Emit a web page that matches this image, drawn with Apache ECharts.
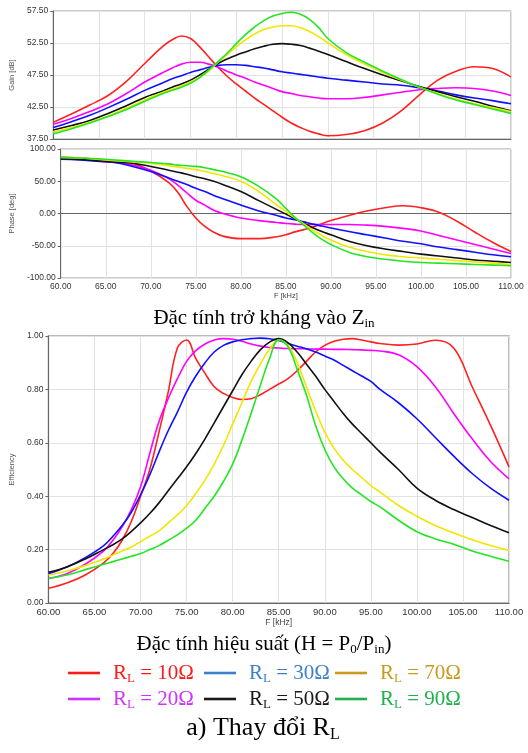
<!DOCTYPE html>
<html><head><meta charset="utf-8">
<script src="https://cdn.jsdelivr.net/npm/echarts@6/dist/echarts.min.js"></script>
<style>html,body{margin:0;padding:0;background:#fff}#c{width:528px;height:753px}</style>
</head><body><div id="c"></div>
<script>
// ---------- data ----------
const seriesNames = ['RL = 10Ω','RL = 20Ω','RL = 30Ω','RL = 50Ω','RL = 70Ω','RL = 90Ω'];
const lineColors = ['#ff2020','#ff00ff','#1010ff','#111111','#f2e600','#22e622'];
const legendColors = ['#ff1a1a','#cc33ff','#3d7fc9','#1a1a1a','#c89b1e','#1fb14c'];

const freqGain = [60,62,64,66,68,70,72,73,74,75,76,77,78,79,80,81,82,83,84,85,86,87,88,89,90,92,94,96,98,100,102,104,106,108,110];
const gain10 = [40.1,41.4,42.8,44.3,46.5,49.3,52.0,53.0,53.6,53.2,51.9,50.3,48.7,47.3,46.1,45.0,43.9,42.9,41.9,40.9,40.0,39.3,38.7,38.3,38.0,38.2,38.8,40.0,41.9,44.4,46.7,48.1,48.8,48.5,47.2];
const gain20 = [39.8,40.7,41.8,43.0,44.6,46.4,47.9,48.6,49.2,49.5,49.5,49.2,48.7,48.1,47.5,47.0,46.4,45.9,45.4,44.9,44.6,44.3,44.1,43.9,43.8,43.8,44.0,44.4,44.8,45.2,45.4,45.5,45.4,45.0,44.3];
const gain30 = [39.3,40.2,41.2,42.4,43.7,45.1,46.3,46.9,47.4,47.9,48.3,48.7,49.0,49.1,49.1,49.0,48.8,48.6,48.3,48.0,47.8,47.6,47.4,47.2,47.0,46.7,46.4,46.1,45.9,45.5,45.0,44.4,43.9,43.5,43.0];
const gain50 = [38.9,39.6,40.4,41.5,42.7,44.0,45.0,45.6,46.1,46.7,47.5,48.4,49.3,50.0,50.6,51.1,51.6,52.0,52.3,52.4,52.3,52.1,51.7,51.2,50.7,49.6,48.5,47.5,46.6,45.7,44.9,44.1,43.4,42.6,41.9];
const gain70 = [38.6,39.3,40.1,41.1,42.3,43.6,44.8,45.3,45.8,46.4,47.1,48.1,49.5,50.7,51.9,53.0,53.9,54.6,55.0,55.2,55.2,54.9,54.3,53.5,52.5,50.7,49.2,47.9,46.7,45.6,44.6,43.7,43.0,42.4,41.8];
const gain90 = [38.3,39.1,40.0,41.0,42.1,43.4,44.6,45.1,45.6,46.2,47.1,48.3,49.6,50.9,52.4,53.8,55.0,56.0,56.7,57.1,57.3,57.0,56.2,54.9,53.2,51.0,49.5,48.1,46.8,45.6,44.5,43.6,42.9,42.2,41.5];

const freqPhase = [60,62,64,66,68,70,72,73,74,75,76,77,78,80,82,84,85,86,87,88,89,90,92,94,96,98,100,102,104,106,108,110];
const phase10 = [87,86,84,82,78,66,48,33,11,-7,-20,-29,-35,-39,-39,-36,-33,-28.5,-25,-21,-16,-11,-3,4,9,12,9,2,-12,-29,-45,-59];
const phase20 = [85,84,82,79,75,67,54,44,32,20.5,13,5,0,-7,-11,-14,-15.5,-16.5,-17,-17,-17,-17,-17,-18,-20,-23,-27,-34,-41,-48,-55,-62];
const phase30 = [84,83,81,79,73,65,55,50,45,39,34,28,23,13,4,-3,-7,-9.5,-13,-16.5,-19.5,-22.5,-28,-33,-38,-43,-47,-52,-56,-60,-64,-67];
const phase50 = [85,84,82,80,78,73,67,64,61,57,54,50,45,34,20,6,-1,-8,-15,-22,-28,-33,-43,-50,-55,-59,-63,-66,-69,-72,-74,-76];
const phase70 = [87,86,84,82,80,78,74,72,70,68,65,62,58.5,50,34,13,3,-7,-16,-26,-34,-41,-52,-59,-64,-67,-69,-71,-73,-75,-77,-79];
const phase90 = [87,86,85,83,81,79,77,75,74,73,71,68,65,57,42,22,8,-6,-18,-30,-40,-48,-60,-67,-71,-74,-76,-77,-78,-79,-80,-81];

const freqEff = [60,62,64,66,67,68,69,70,71,72,73,74,75,76,77,78,79,80,81,82,83,84,85,86,87,88,89,90,91,92,93,94,95,96,98,100,102,104,106,108,110];
const eff10 = [0.055,0.075,0.105,0.15,0.185,0.235,0.305,0.40,0.50,0.64,0.79,0.955,0.985,0.915,0.86,0.81,0.785,0.77,0.762,0.765,0.78,0.80,0.82,0.84,0.87,0.905,0.94,0.965,0.98,0.988,0.99,0.985,0.978,0.972,0.966,0.97,0.984,0.955,0.81,0.665,0.51];
const eff20 = [0.092,0.11,0.145,0.195,0.235,0.285,0.35,0.435,0.56,0.68,0.765,0.84,0.905,0.945,0.97,0.985,0.99,0.988,0.98,0.97,0.962,0.957,0.955,0.953,0.952,0.952,0.951,0.951,0.95,0.95,0.949,0.948,0.946,0.944,0.93,0.885,0.81,0.71,0.615,0.53,0.465];
const eff30 = [0.11,0.135,0.17,0.215,0.25,0.29,0.34,0.405,0.48,0.565,0.645,0.715,0.79,0.85,0.9,0.94,0.965,0.978,0.986,0.99,0.992,0.99,0.983,0.972,0.962,0.952,0.94,0.925,0.91,0.89,0.87,0.85,0.83,0.80,0.75,0.69,0.62,0.55,0.485,0.43,0.385];
const eff50 = [0.115,0.135,0.165,0.2,0.218,0.24,0.268,0.3,0.335,0.375,0.42,0.465,0.51,0.56,0.615,0.675,0.735,0.795,0.855,0.905,0.948,0.977,0.99,0.975,0.94,0.895,0.85,0.80,0.755,0.71,0.67,0.635,0.60,0.565,0.50,0.43,0.385,0.35,0.32,0.29,0.263];
const eff70 = [0.105,0.12,0.14,0.165,0.18,0.195,0.21,0.23,0.25,0.27,0.3,0.33,0.365,0.41,0.46,0.52,0.59,0.67,0.75,0.83,0.895,0.95,0.985,0.965,0.9,0.81,0.72,0.64,0.58,0.535,0.5,0.47,0.44,0.415,0.365,0.325,0.29,0.262,0.237,0.215,0.197];
const eff90 = [0.092,0.105,0.125,0.145,0.155,0.165,0.175,0.185,0.2,0.215,0.235,0.255,0.28,0.31,0.355,0.40,0.455,0.52,0.61,0.71,0.815,0.915,0.985,0.96,0.875,0.78,0.665,0.575,0.51,0.465,0.43,0.405,0.38,0.36,0.31,0.267,0.24,0.22,0.195,0.175,0.156];

const xTicks = {min:60, max:110, interval:5};
// ---------- build ----------
const zip = (xs, ys) => xs.map((x,i)=>[x, ys[i]]);
const gainSets = [gain10,gain20,gain30,gain50,gain70,gain90];
const phaseSets = [phase10,phase20,phase30,phase50,phase70,phase90];
const effSets = [eff10,eff20,eff30,eff50,eff70,eff90];

const series = [];
function addSeries(sets, freq, idx){
  sets.forEach((ys,k)=>{
    series.push({type:'line', name:seriesNames[k], xAxisIndex:idx, yAxisIndex:idx,
      data:zip(freq, ys), smooth:0.4, symbol:'none', animation:false,
      lineStyle:{color:lineColors[k], width:1.6}});
  });
}
addSeries(gainSets, freqGain, 0);
addSeries(phaseSets, freqPhase, 1);
addSeries(effSets, freqEff, 2);

const tickFont = 'Liberation Sans, Arial, sans-serif';
function xAx(idx, showLabels, fs){
  return {type:'value', gridIndex:idx, min:xTicks.min, max:xTicks.max, interval:xTicks.interval,
    axisLine:{lineStyle:{color:'#666', width:1}}, axisTick:{show:false},
    axisLabel:{show:showLabels, formatter:v=>v.toFixed(2), fontSize:fs, color:'#333', fontFamily:tickFont, margin:4},
    splitLine:{show:true, lineStyle:{color:'#e2e2e2', width:1}},
    name: showLabels ? 'F [kHz]' : '', nameLocation:'middle', nameGap: showLabels? 14:0,
    nameTextStyle:{fontSize:fs-1, color:'#444', fontFamily:tickFont}};
}
function yAx(idx, min, max, interval, name, fs, gap){
  return {type:'value', gridIndex:idx, min, max, interval,
    axisLine:{show:true, lineStyle:{color:'#666', width:1}}, axisTick:{show:true, length:3, lineStyle:{color:'#666'}},
    axisLabel:{formatter:v=>v.toFixed(2), fontSize:fs, color:'#333', fontFamily:tickFont, margin:5},
    splitLine:{show:true, lineStyle:{color:'#e2e2e2', width:1}},
    name, nameLocation:'middle', nameRotate:90, nameGap:gap,
    nameTextStyle:{fontSize:fs-1, color:'#555', fontFamily:tickFont}};
}

const serif = '"Liberation Serif", "Times New Roman", serif';
function richText(color, size){
  return {
    m:{fontSize:size, fontFamily:serif, fill:color, color:color, lineHeight:size+4, verticalAlign:'middle'},
    s:{fontSize:Math.round(size*0.62), fontFamily:serif, fill:color, color:color, lineHeight:Math.round(size*0.62), verticalAlign:'bottom'}
  };
}
const graphics = [];
function caption(text, x, y, size, color){
  graphics.push({type:'text', x, y, silent:true,
    style:{text, x:0, y:0, align:'center', verticalAlign:'middle', fill:color,
      fontSize:size, fontFamily:serif, rich:richText(color, size)}});
}
caption('{m|Đặc tính trở kháng vào Z}{s|in}', 264, 318, 21, '#000');
caption('{m|Đặc tính hiệu suất (H = P}{s|0}{m|/P}{s|in}{m|)}', 264, 644, 21, '#000');
caption('{m|a) Thay đổi R}{s|L}', 263, 728, 26, '#000');

const legendPos = [[68,673],[68,699],[204,673],[204,699],[335,673],[335,699]];
const legendVals = ['10','20','30','50','70','90'];
legendPos.forEach((p,k)=>{
  graphics.push({type:'line', silent:true, shape:{x1:p[0], y1:p[1], x2:p[0]+32, y2:p[1]},
    style:{stroke:legendColors[k], lineWidth:2.6}});
  graphics.push({type:'text', silent:true, x:p[0]+45, y:p[1],
    style:{text:'{m|R}{s|L}{m| = '+legendVals[k]+'Ω}', align:'left', verticalAlign:'middle',
      fill:legendColors[k], fontSize:21, fontFamily:serif, rich:richText(legendColors[k], 21)}});
});

const option = {
  backgroundColor:'#fff',
  animation:false,
  grid:[
    {left:53, right:17, top:11, height:128, show:true, borderColor:'#9a9a9a', borderWidth:1},
    {left:53, right:17, top:149, height:129, show:true, borderColor:'#9a9a9a', borderWidth:1},
    {left:41, right:19, top:336, height:267, show:true, borderColor:'#a5a5a5', borderWidth:1.5}
  ],
  xAxis:[xAx(0,false,8.5), xAx(1,true,8.5), xAx(2,true,9.5)],
  yAxis:[
    yAx(0, 37.5, 57.5, 5, 'Gain [dB]', 8.5, 36),
    yAx(1, -100, 100, 50, 'Phase [deg]', 8.5, 36),
    yAx(2, 0, 1, 0.2, 'Efficiency', 8.5, 28)
  ],
  series,
  graphic: graphics
};
const chart = echarts.init(document.getElementById('c'), null, {renderer:'canvas'});
chart.setOption(option);
</script></body></html>
